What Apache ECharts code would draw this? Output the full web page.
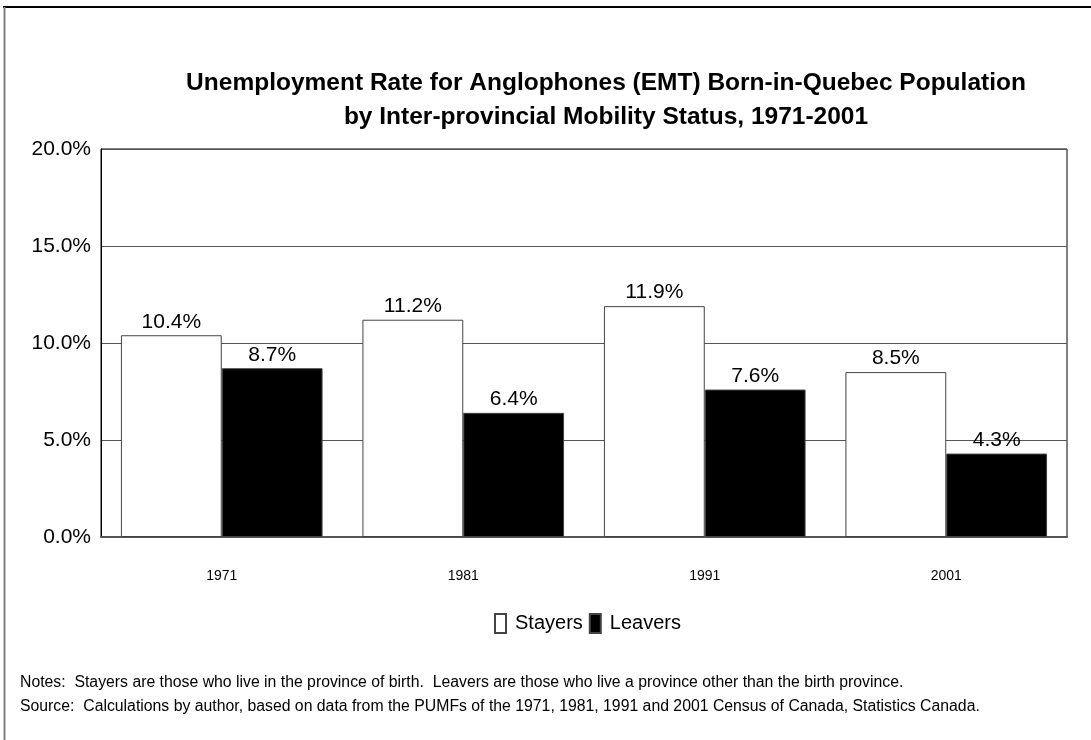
<!DOCTYPE html>
<html>
<head>
<meta charset="utf-8">
<script src="https://cdn.jsdelivr.net/npm/echarts@6/dist/echarts.min.js"></script>
<style>
html,body{margin:0;padding:0;background:#fff;}
#chart{width:1091px;height:740px;}
</style>
</head>
<body>
<div id="chart"></div>
<script>
const categories = ['1971', '1981', '1991', '2001'];
const stayers = [10.4, 11.2, 11.9, 8.5];
const leavers = [8.7, 6.4, 7.6, 4.3];
const titleText = 'Unemployment Rate for Anglophones (EMT) Born-in-Quebec Population\nby Inter-provincial Mobility Status, 1971-2001';
const notesText = 'Notes:  Stayers are those who live in the province of birth.  Leavers are those who live a province other than the birth province.';
const sourceText = 'Source:  Calculations by author, based on data from the PUMFs of the 1971, 1981, 1991 and 2001 Census of Canada, Statistics Canada.';

const FONT = '"Liberation Sans", Arial, sans-serif';
const chart = echarts.init(document.getElementById('chart'));
const pct = v => v.toFixed(1) + '%';

chart.setOption({
  backgroundColor: '#fff',
  animation: false,
  title: {
    text: titleText,
    left: 601,
    top: 61,
    textAlign: 'center',
    textStyle: { fontFamily: FONT, fontSize: 24.5, fontWeight: 'bold', color: '#000', lineHeight: 34 }
  },
  grid: {
    left: 101, right: 24, top: 149, bottom: 203,
    show: true, borderColor: '#000', borderWidth: 1, backgroundColor: 'transparent'
  },
  legend: {
    left: 494, top: 613, padding: 0,
    itemWidth: 11, itemHeight: 19, itemGap: 6,
    icon: 'rect',
    textStyle: { fontFamily: FONT, fontSize: 20, color: '#000', padding: [0, 0, 0, 4] },
    data: ['Stayers', 'Leavers']
  },
  xAxis: {
    type: 'category',
    data: categories,
    axisTick: { show: false },
    axisLine: { show: true, lineStyle: { color: '#555', width: 2 } },
    axisLabel: { fontFamily: FONT, fontSize: 14, color: '#000', margin: 32 }
  },
  yAxis: {
    type: 'value',
    min: 0, max: 20, interval: 5,
    axisLine: { show: true, lineStyle: { color: '#000', width: 1 } },
    axisTick: { show: false },
    axisLabel: { fontFamily: FONT, fontSize: 21, color: '#000', margin: 10, formatter: v => pct(v) },
    splitLine: { show: true, lineStyle: { color: '#555', width: 1 } }
  },
  series: [
    {
      name: 'Stayers', type: 'bar', data: stayers,
      barGap: '0%', barCategoryGap: '16.5%',
      itemStyle: { color: '#fff', borderColor: '#444', borderWidth: 1 },
      label: { show: true, position: 'top', distance: 3, fontFamily: FONT, fontSize: 21, color: '#000', formatter: p => pct(p.value) }
    },
    {
      name: 'Leavers', type: 'bar', data: leavers,
      barGap: '0%', barCategoryGap: '16.5%',
      itemStyle: { color: '#000', borderColor: '#444', borderWidth: 1 },
      label: { show: true, position: 'top', distance: 3, fontFamily: FONT, fontSize: 21, color: '#000', formatter: p => pct(p.value) }
    }
  ],
  graphic: [
    { type: 'line', shape: { x1: 3, y1: 7, x2: 1091, y2: 7 }, style: { stroke: '#000', lineWidth: 2 }, silent: true },
    { type: 'line', shape: { x1: 4.5, y1: 7, x2: 4.5, y2: 740 }, style: { stroke: '#808080', lineWidth: 2 }, silent: true },
    { type: 'text', left: 20, top: 675, style: { text: notesText, fontFamily: FONT, fontSize: 15.8, fill: '#000' } },
    { type: 'text', left: 20, top: 699, style: { text: sourceText, fontFamily: FONT, fontSize: 15.8, fill: '#000' } }
  ]
});
</script>
</body>
</html>
